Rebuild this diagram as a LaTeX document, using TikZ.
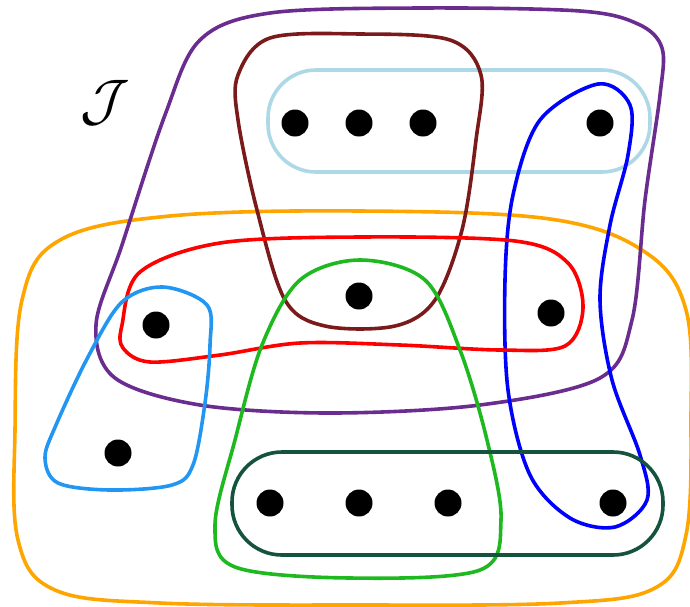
\documentclass[tikz,border=0pt]{standalone}
\usepackage{tikz}
\definecolor{hpurple}{RGB}{106,45,143}
\definecolor{hmaroon}{RGB}{122,26,26}
\definecolor{hlight}{RGB}{173,216,230}
\definecolor{hblue}{RGB}{0,0,255}
\definecolor{horange}{RGB}{255,165,0}
\definecolor{hred}{RGB}{255,0,0}
\definecolor{hsky}{RGB}{33,150,243}
\definecolor{hgreen}{RGB}{30,185,30}
\definecolor{hdeep}{RGB}{20,83,60}
\begin{document}
\begin{tikzpicture}[x=1pt,y=-1pt,
  vertex/.style={circle,fill=black,inner sep=0pt,minimum size=27pt},
  edgeline/.style={line width=3.6pt,line join=round}]
\useasboundingbox (0,0) rectangle (690,606);

% hyperedges
\draw[edgeline,horange] plot[smooth cycle,tension=0.6] coordinates {
  (15,430) (22,300) (60,240) (170,216) (360,211) (550,219) (645,252)
  (686,310) (691,420) (686,535) (655,588) (560,603) (360,605) (160,603)
  (55,590) (18,540)};
\draw[edgeline,hpurple] plot[smooth cycle,tension=0.55] coordinates {
  (165,115) (200,40) (270,13) (420,8) (580,11) (638,24) (662,48)
  (660,95) (645,200) (632,320) (600,378) (480,405) (330,413) (200,405)
  (115,378) (96,325) (122,245)};
\draw[edgeline,hlight,rounded corners=48pt] (268,70) rectangle (650,172);
\draw[edgeline,hmaroon] plot[smooth cycle,tension=0.55] coordinates {
  (238,75) (270,38) (360,34) (450,40) (481,75) (476,140) (462,230)
  (435,300) (395,326) (325,326) (285,300) (257,210) (238,120)};
\draw[edgeline,hblue] plot[smooth cycle,tension=0.55] coordinates {
  (598,84) (630,105) (628,155) (610,225) (600,300) (612,380)
  (640,455) (647,500) (615,527) (570,518) (530,475) (508,390)
  (505,280) (513,195) (540,120)};
\draw[edgeline,hred] plot[smooth cycle,tension=0.55] coordinates {
  (122,325) (140,272) (220,243) (360,237) (515,241) (568,263) (583,308)
  (565,346) (500,350) (400,345) (300,343) (220,355) (150,362) (123,348)};
\draw[edgeline,hsky] plot[smooth cycle,tension=0.55] coordinates {
  (163,287) (207,305) (210,345) (205,403) (193,465) (172,485) (110,490)
  (58,483) (45,458) (56,425) (88,357) (122,302)};
\draw[edgeline,hgreen] plot[smooth cycle,tension=0.55] coordinates {
  (360,260) (300,280) (262,345) (235,440) (215,525) (235,567) (350,578)
  (480,570) (501,520) (487,440) (460,350) (425,280)};
\draw[edgeline,hdeep,rounded corners=50pt] (232,452) rectangle (663,555);

% vertices
\node[vertex] (v1) at (295,123) {};
\node[vertex] (v2) at (359,123) {};
\node[vertex] (v3) at (423,123) {};
\node[vertex] (v4) at (600,123) {};
\node[vertex] (v5) at (359,296) {};
\node[vertex] (v6) at (156,325) {};
\node[vertex] (v7) at (551,313) {};
\node[vertex] (v8) at (118,453) {};
\node[vertex] (v9) at (270,503) {};
\node[vertex] (v10) at (359,503) {};
\node[vertex] (v11) at (448,503) {};
\node[vertex] (v12) at (613,503) {};

% label of the hypergraph
\node[scale=2.3] (lbl) at (105,103) {\Huge $\mathcal{J}$};
\end{tikzpicture}
\end{document}
